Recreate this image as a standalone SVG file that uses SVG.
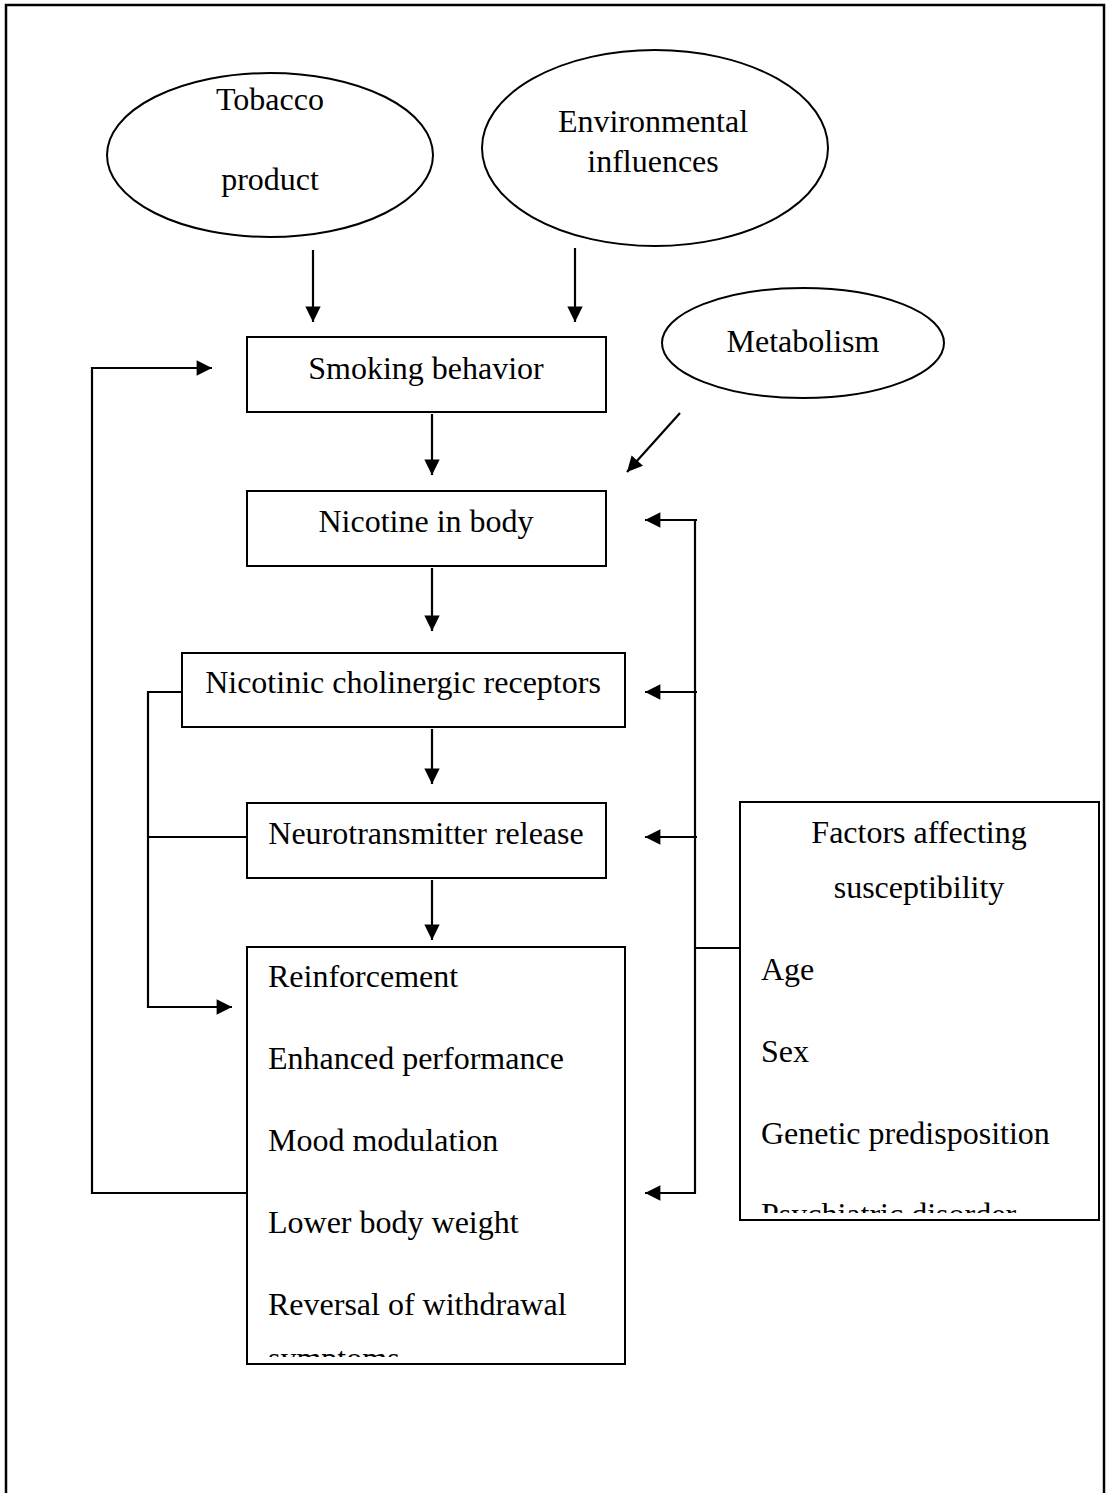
<svg xmlns="http://www.w3.org/2000/svg" width="1106" height="1493" viewBox="0 0 1106 1493">
<style>
.n{fill:#fff;stroke:#000;stroke-width:2}
.t{font-family:"Liberation Serif","Times New Roman",serif;font-size:32px;fill:#000}
.c{text-anchor:middle}
.l{fill:none;stroke:#000;stroke-width:2.2}
</style>
<defs>
<marker id="a" viewBox="0 0 10 10" refX="10" refY="5" markerWidth="7.5" markerHeight="7" orient="auto" markerUnits="strokeWidth">
<path d="M0,0 L10,5 L0,10 z" fill="#000"/>
</marker>
<clipPath id="cb"><rect x="247" y="947" width="378" height="410"/></clipPath>
<clipPath id="cf"><rect x="740" y="802" width="359" height="411"/></clipPath>
</defs>
<rect width="1106" height="1493" fill="#fff"/>
<path d="M6,1493 L6,5 L1104,5 L1104,1493" fill="none" stroke="#000" stroke-width="2.5"/>

<g id="tobacco"><ellipse class="n" cx="270" cy="155" rx="163" ry="82"/><text class="t c" x="270" y="110">Tobacco</text><text class="t c" x="270" y="190">product</text></g>
<g id="environmental"><ellipse class="n" cx="655" cy="148" rx="173" ry="98"/><text class="t c" x="653" y="132">Environmental</text><text class="t c" x="653" y="172">influences</text></g>
<g id="metabolism"><ellipse class="n" cx="803" cy="343" rx="141" ry="55"/><text class="t c" x="803" y="352">Metabolism</text></g>
<g id="smoking"><rect class="n" x="247" y="337" width="359" height="75"/><text class="t c" x="426" y="379">Smoking behavior</text></g>
<g id="nicotine"><rect class="n" x="247" y="491" width="359" height="75"/><text class="t c" x="426" y="532">Nicotine in body</text></g>
<g id="receptors"><rect class="n" x="182" y="653" width="443" height="74"/><text class="t c" x="403" y="693">Nicotinic cholinergic receptors</text></g>
<g id="neuro"><rect class="n" x="247" y="803" width="359" height="75"/><text class="t c" x="426" y="844">Neurotransmitter release</text></g>
<g id="effects"><rect class="n" x="247" y="947" width="378" height="417"/>
<g clip-path="url(#cb)">
<text class="t" x="268" y="987">Reinforcement</text>
<text class="t" x="268" y="1069">Enhanced performance</text>
<text class="t" x="268" y="1151">Mood modulation</text>
<text class="t" x="268" y="1233">Lower body weight</text>
<text class="t" x="268" y="1315">Reversal of withdrawal</text>
<text class="t" x="268" y="1369">symptoms</text>
</g></g>
<g id="factors"><rect class="n" x="740" y="802" width="359" height="418"/>
<g clip-path="url(#cf)">
<text class="t c" x="919" y="843">Factors affecting</text>
<text class="t c" x="919" y="898">susceptibility</text>
<text class="t" x="761" y="980">Age</text>
<text class="t" x="761" y="1062">Sex</text>
<text class="t" x="761" y="1144">Genetic predisposition</text>
<text class="t" x="761" y="1225">Psychiatric disorder</text>
</g></g>

<g id="connectors">
<line class="l" x1="313" y1="250" x2="313" y2="322" marker-end="url(#a)"/>
<line class="l" x1="575" y1="248" x2="575" y2="322" marker-end="url(#a)"/>
<line class="l" x1="432" y1="414" x2="432" y2="475" marker-end="url(#a)"/>
<line class="l" x1="680" y1="413" x2="627" y2="472" marker-end="url(#a)"/>
<line class="l" x1="432" y1="568" x2="432" y2="631" marker-end="url(#a)"/>
<line class="l" x1="432" y1="729" x2="432" y2="784" marker-end="url(#a)"/>
<line class="l" x1="432" y1="880" x2="432" y2="940" marker-end="url(#a)"/>
<path class="l" d="M247,1193 H92 V368 H212" marker-end="url(#a)"/>
<path class="l" d="M182,692 H148 V1007 H232" marker-end="url(#a)"/>
<line class="l" x1="247" y1="837" x2="148" y2="837"/>
<line class="l" x1="695" y1="520" x2="695" y2="1193"/>
<line class="l" x1="697" y1="520" x2="645" y2="520" marker-end="url(#a)"/>
<line class="l" x1="697" y1="692" x2="645" y2="692" marker-end="url(#a)"/>
<line class="l" x1="697" y1="837" x2="645" y2="837" marker-end="url(#a)"/>
<line class="l" x1="696" y1="1193" x2="645" y2="1193" marker-end="url(#a)"/>
<line class="l" x1="740" y1="948" x2="695" y2="948"/>
</g>
</svg>
